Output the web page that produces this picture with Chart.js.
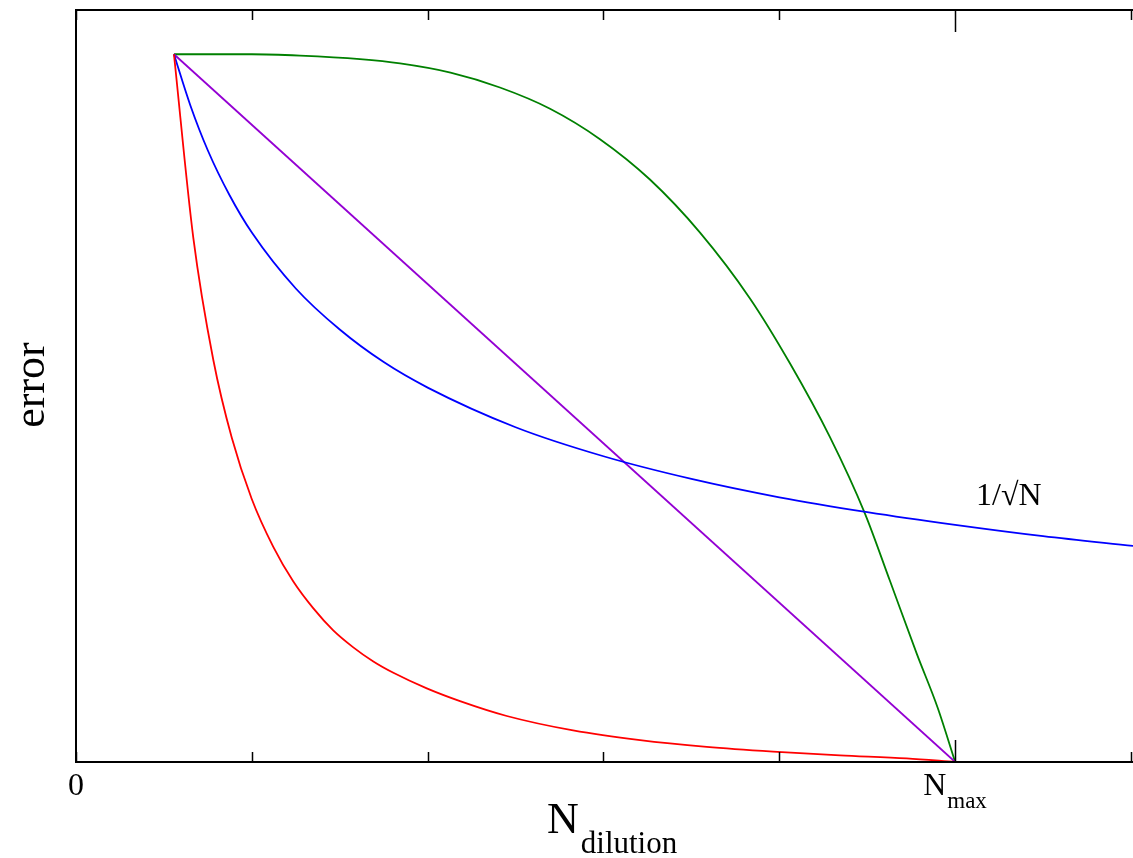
<!DOCTYPE html>
<html>
<head>
<meta charset="utf-8">
<script src="https://cdn.jsdelivr.net/npm/chart.js@4.4.0/dist/chart.umd.min.js"></script>
<style>
  body { margin: 0; background: #fff; }
  #wrap { width: 1133px; height: 858px; }
</style>
</head>
<body>
<div id="wrap"><canvas id="errChart" width="1133" height="858"></canvas></div>
<script>
// N values (in units where N_max = 5) and error values for each curve
const redX = [0.557, 0.667, 0.781, 0.886, 0.999, 1.122, 1.236, 1.350, 1.463, 1.577, 1.691, 1.805, 1.995, 2.184, 2.450, 2.827, 3.208, 3.587, 3.964, 4.345, 4.724, 5.0];
const redY = [1.0, 0.741, 0.568, 0.458, 0.372, 0.304, 0.255, 0.217, 0.186, 0.162, 0.142, 0.126, 0.104, 0.086, 0.065, 0.0446, 0.0308, 0.0213, 0.0146, 0.0093, 0.0050, 0.0];

const blueX = [0.557, 0.65, 0.75, 0.875, 1.0, 1.25, 1.5, 1.75, 2.0, 2.5, 3.0, 3.5, 4.0, 4.5, 5.0, 5.5, 6.02];
const blueY = [1.0, 0.928, 0.864, 0.800, 0.748, 0.669, 0.611, 0.565, 0.529, 0.473, 0.432, 0.400, 0.374, 0.353, 0.335, 0.319, 0.305];

const purpleX = [0.557, 5.0];
const purpleY = [1.0, 0.0];

const greenX = [0.557, 1.0, 1.274, 1.615, 1.843, 2.13, 2.411, 2.696, 2.980, 3.264, 3.549, 3.833, 4.061, 4.288, 4.487, 4.629, 4.783, 4.9, 5.0];
const greenY = [1.0, 1.0, 0.998, 0.993, 0.987, 0.974, 0.953, 0.923, 0.880, 0.823, 0.748, 0.655, 0.563, 0.459, 0.351, 0.256, 0.152, 0.077, 0.0];

const xTicks = [0, 1, 2, 3, 4, 5, 6];
const nMax = 5;

function pts(xs, ys) {
  return xs.map((x, i) => ({ x: x, y: ys[i] }));
}

const serif = '"Liberation Serif", "DejaVu Serif", serif';

// open frame (left, top, bottom), inward ticks, and the hand-set labels with subscripts
const framePlugin = {
  id: 'frame',
  afterDraw(chart) {
    const ctx = chart.ctx;
    const a = chart.chartArea;
    const xs = chart.scales.x;
    ctx.save();
    ctx.strokeStyle = '#000';
    ctx.lineWidth = 2;
    ctx.beginPath();
    ctx.moveTo(chart.width, a.top);
    ctx.lineTo(a.left, a.top);
    ctx.lineTo(a.left, a.bottom);
    ctx.lineTo(chart.width, a.bottom);
    ctx.stroke();

    ctx.lineWidth = 1.5;
    xTicks.forEach(v => {
      const px = Math.round(xs.getPixelForValue(v)) + 0.5;
      const len = v === nMax ? 22 : 10;
      ctx.beginPath();
      ctx.moveTo(px, a.bottom);
      ctx.lineTo(px, a.bottom - len);
      ctx.moveTo(px, a.top);
      ctx.lineTo(px, a.top + len);
      ctx.stroke();
    });

    ctx.fillStyle = '#000';
    ctx.textBaseline = 'alphabetic';

    // tick labels
    ctx.font = '32px ' + serif;
    ctx.textAlign = 'center';
    ctx.fillText('0', xs.getPixelForValue(0), 795);
    ctx.textAlign = 'left';
    const nx = xs.getPixelForValue(nMax) - 32;
    ctx.fillText('N', nx, 795);
    const nw = ctx.measureText('N').width;
    ctx.font = '23px ' + serif;
    ctx.fillText('max', nx + nw + 1, 808);

    // x axis title
    ctx.font = '44px ' + serif;
    ctx.fillText('N', 547, 833);
    const tw = ctx.measureText('N').width;
    ctx.font = '31px ' + serif;
    ctx.fillText('dilution', 547 + tw + 2, 853);

    // curve label
    ctx.font = '32px ' + serif;
    ctx.fillText('1/\u221AN', 976, 505);

    // y axis title
    ctx.font = '44px ' + serif;
    ctx.translate(44, 385);
    ctx.rotate(-Math.PI / 2);
    ctx.textAlign = 'center';
    ctx.fillText('error', 0, 0);
    ctx.restore();
  }
};

new Chart(document.getElementById('errChart'), {
  type: 'scatter',
  data: {
    datasets: [
      { label: 'red', data: pts(redX, redY), borderColor: '#ff0000', cubicInterpolationMode: 'monotone' },
      { label: 'blue', data: pts(blueX, blueY), borderColor: '#0000ff', cubicInterpolationMode: 'monotone' },
      { label: 'purple', data: pts(purpleX, purpleY), borderColor: '#9400d3', tension: 0 },
      { label: 'green', data: pts(greenX, greenY), borderColor: '#008000', cubicInterpolationMode: 'monotone' }
    ].map(d => Object.assign(d, { showLine: true, pointRadius: 0, borderWidth: 1.8, fill: false }))
  },
  options: {
    responsive: false,
    animation: false,
    layout: { padding: { left: 76, top: 10, right: 0, bottom: 96 } },
    plugins: { legend: { display: false }, tooltip: { enabled: false } },
    scales: {
      x: { type: 'linear', min: 0, max: 6.0114, display: false },
      y: { type: 'linear', min: 0, max: 1.0625, display: false }
    }
  },
  plugins: [framePlugin]
});
</script>
</body>
</html>
